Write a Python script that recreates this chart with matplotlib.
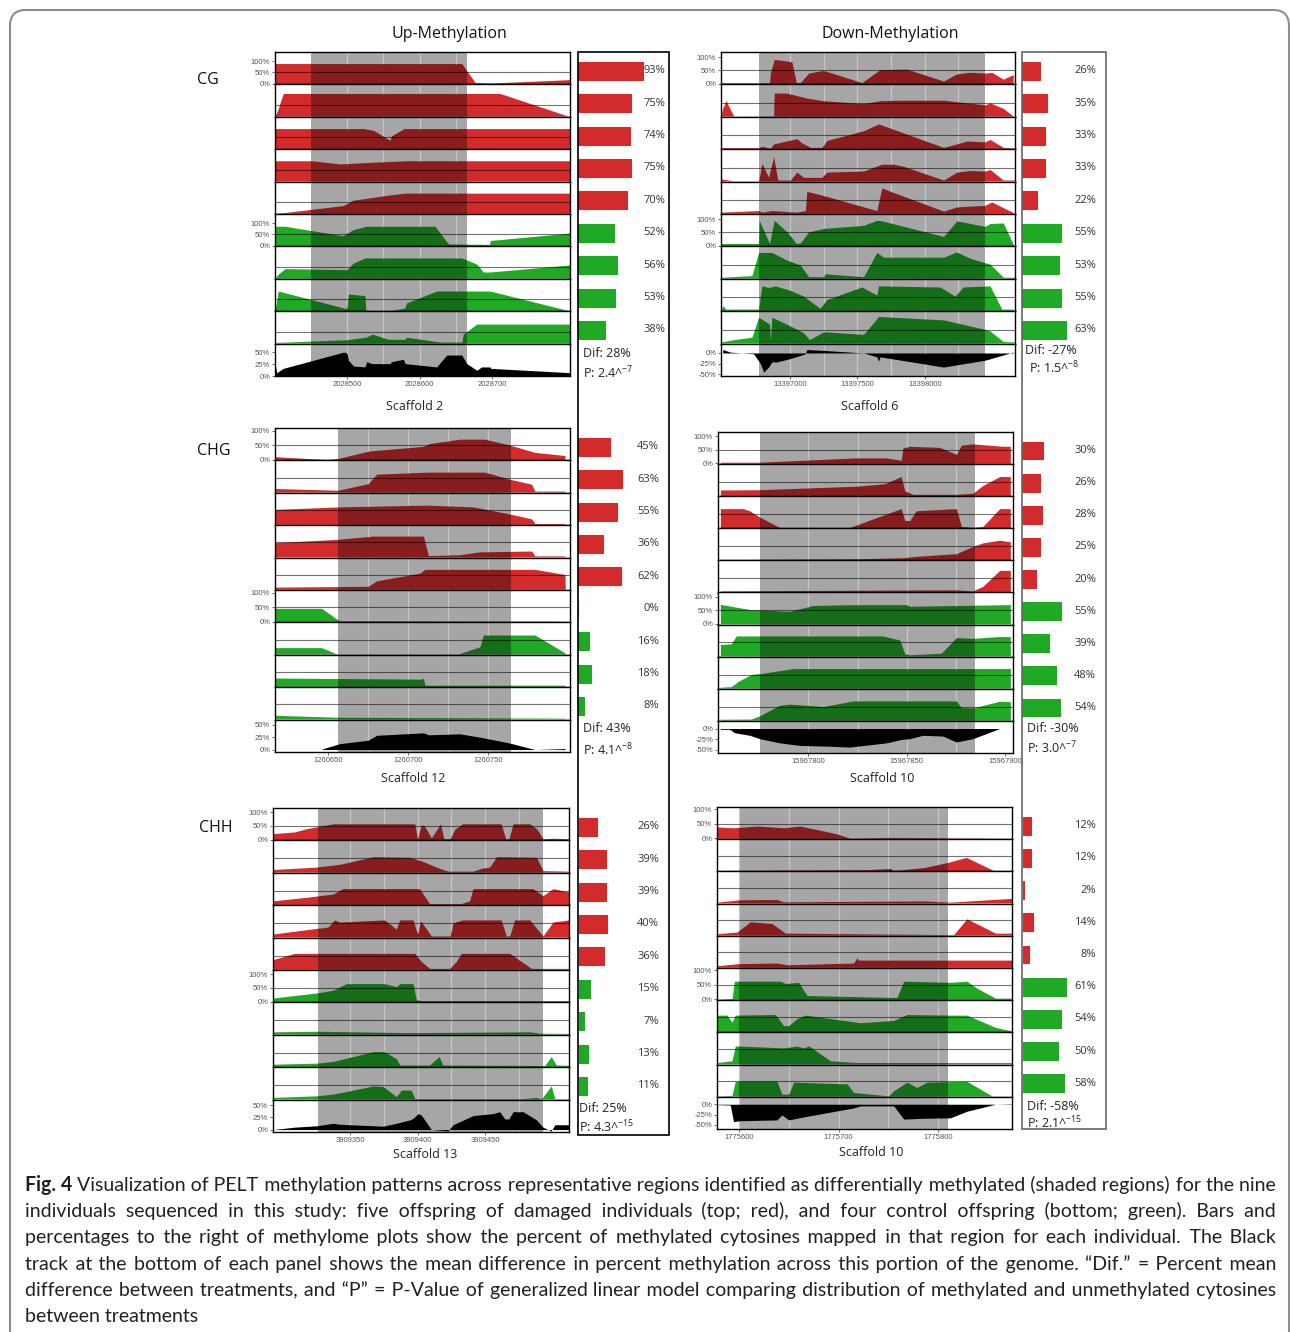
import matplotlib.pyplot as plt
import numpy as np
from matplotlib.patches import FancyBboxPatch, Rectangle

plt.rcParams["font.family"] = ["Open Sans", "DejaVu Sans"]
plt.rcParams["mathtext.fontset"] = "custom"
plt.rcParams["mathtext.rm"] = "Open Sans"
plt.rcParams["mathtext.it"] = "Open Sans"

W, H = 1290, 1332
RED, GREEN = "#d32b2b", "#1fa924"
TICK_FONT = "Liberation Sans"
CAPTION_FONT = ["Lato", "DejaVu Sans"]

# ---------------------------------------------------------------- data
# each track: (position in % of the plotted window, % methylation)
# five damaged offspring (red) then four controls (green)
cg_up_tracks = [
    [(0, 89), (63.3, 89), (67.8, 6), (72.9, 3), (100, 18)],
    [(0, 0), (1, 30), (2.8, 100), (76.3, 100), (99.4, 0), (100, 0)],
    [(0, 88), (30, 88), (33.5, 80), (39, 36), (39.5, 56), (43.8, 88), (100, 88)],
    [(0, 89), (12.4, 89), (22, 75), (34, 83), (45, 89), (100, 89)],
    [(0, 0), (3, 3), (23, 34), (26.5, 58), (31, 66), (37, 78), (44, 89), (100, 89)],
    [(0, 86), (3.4, 86), (23, 44), (26.5, 71), (31, 86), (54.2, 86), (58.8, 8), (72.8, 6), (72.9, 23), (100, 56)],
    [(0, 0), (1.2, 19), (3.4, 42), (24.3, 37), (26.5, 66), (30.5, 89), (63.3, 89), (68.4, 62), (70.6, 27), (72.9, 27), (100, 58)],
    [(0, 0), (1.1, 86), (24.3, 8), (24.9, 73), (30.5, 66), (30.8, 0), (39.5, 0), (44, 11), (44.6, 34), (54.8, 86), (72.9, 86), (99.4, 0), (100, 0)],
    [(0, 2), (24.3, 14), (30.8, 25), (33, 39), (38.4, 16), (44, 16), (44.6, 25), (56, 4), (63.3, 4), (63.8, 39), (68.4, 83), (100, 83)],
]
cg_up_diff = [(0, 26), (0.6, 7), (2.8, 16), (23.2, 50), (24.3, 49), (24.9, 33), (26.6, 21), (30.5, 19), (31.1, 30), (32.8, 26), (39, 26), (39.5, 30), (43.5, 35), (44.1, 26), (54.8, 19), (58.2, 44), (63.3, 44), (65, 26), (68.4, 12), (70, 19), (72.9, 19), (73.1, 16), (100, 7)]
cg_up_pct = [93, 75, 74, 75, 70, 52, 56, 53, 38]
cg_up_window = (2028401, 2028807)
cg_up_shade = (2028451, 2028665)
cg_up_ticks = [2028500, 2028600, 2028700]

cg_down_tracks = [
    [(0, 3), (16.5, 3), (16.8, 40), (18.1, 92), (24.1, 83), (25.6, 4), (27, 4), (29.8, 40), (34.9, 50), (47.9, 4), (54.1, 53), (63.2, 55), (75.7, 10), (80.2, 37), (84.7, 43), (89.8, 40), (92.1, 43), (96, 17), (99.4, 34)],
    [(0, 0), (0.6, 30), (1.7, 58), (4.3, 0), (17.9, 0), (18.1, 87), (22.4, 87), (29.2, 68), (34.9, 58), (48.5, 47), (54.1, 58), (60.9, 60), (75.7, 60), (89.8, 42), (91.5, 50), (96, 29), (99.4, 0)],
    [(0, 3), (12.8, 3), (13.9, 8), (16.8, 1), (17.9, 17), (25.8, 37), (27.5, 21), (30.4, 4), (34.3, 4), (36, 30), (48.5, 67), (53.6, 93), (75.7, 4), (80.2, 17), (83.6, 28), (89.8, 25), (91.5, 34), (96, 4), (100, 1)],
    [(0, 7), (4.3, 0), (12.8, 0), (13.4, 33), (13.9, 66), (16.2, 13), (17.9, 92), (19.3, 3), (23.6, 3), (25.8, 33), (28.1, 13), (34.3, 13), (36, 33), (48.5, 37), (54.7, 63), (58.7, 63), (62.1, 55), (75.7, 3), (80.2, 33), (84.7, 39), (89.8, 37), (91.5, 43), (96, 3), (100, 3)],
    [(0, 4), (12.8, 10), (13.9, 4), (17.3, 10), (25.8, 4), (28.7, 10), (29.2, 83), (34.9, 67), (53, 10), (54.7, 96), (59.8, 74), (75.7, 8), (80.2, 24), (89.8, 30), (92.1, 43), (96, 21), (99.4, 3)],
    [(0, 8), (12.8, 8), (13, 96), (16.5, 8), (18.1, 96), (23, 46), (25.6, 8), (27, 10), (29.8, 52), (34.9, 65), (48.5, 77), (53, 96), (54.7, 94), (75.7, 35), (80.2, 94), (89.8, 73), (91.5, 84), (96, 86), (99.4, 5)],
    [(0, 3), (10.5, 9), (12.8, 97), (17.3, 97), (22.4, 68), (27, 49), (29.8, 5), (34.9, 5), (35.4, 16), (48.5, 5), (53, 97), (55.3, 79), (75.7, 79), (80.2, 99), (84.7, 75), (89.8, 58), (91.5, 53), (96, 3), (100, 3)],
    [(0, 0), (0.6, 18), (1.7, 5), (12.8, 5), (13.9, 93), (16.2, 87), (18.5, 93), (23.6, 76), (28.1, 54), (33.7, 8), (36, 41), (47.9, 89), (53, 58), (53.6, 93), (74.5, 89), (79.6, 54), (82.4, 89), (91.5, 93), (95.5, 5), (99.4, 5)],
    [(0, 3), (4.3, 12), (10.5, 21), (12.8, 97), (16.5, 71), (16.8, 8), (17.3, 97), (23.6, 64), (28.1, 38), (30.1, 12), (34.9, 42), (48.5, 32), (53.6, 100), (75.7, 87), (89.8, 51), (91.5, 45), (96, 5), (100, 3)],
]
cg_down_diff = [(0.6, 8), (3.2, 2), (11.1, -2), (13.4, -25), (14.5, -45), (16.2, -33), (17.3, -21), (19, -21), (23.6, -13), (28.7, -2), (29.2, 8), (34.9, 6), (48.5, 0), (53, -9), (53.6, -19), (54.1, -9), (75.7, -33), (89.8, -17), (99.4, 2)]
cg_down_pct = [26, 35, 33, 33, 22, 55, 53, 55, 63]
cg_down_window = (13396486, 13398670)
cg_down_shade = (13396770, 13398448)
cg_down_ticks = [13397000, 13397500, 13398000]

chg_up_tracks = [
    [(0, 10), (17.5, 0), (21.5, 4), (31.6, 29), (33.3, 31), (50.3, 46), (52.5, 56), (62.7, 71), (71.2, 71), (79.7, 50), (88.1, 25), (98.3, 14)],
    [(0, 12), (21.5, 6), (31.6, 29), (34.5, 62), (51.4, 69), (71.2, 69), (79.7, 44), (87, 27), (88.1, 3), (98.3, 3)],
    [(0, 52), (22, 61), (51.4, 67), (67.2, 61), (79.7, 36), (87, 19), (88.1, 3), (98.3, 3)],
    [(0, 49), (21.5, 61), (33.3, 72), (50.3, 72), (52, 4), (62.7, 7), (69.5, 17), (87, 20), (88.1, 3), (98.3, 3)],
    [(0, 7), (31.6, 10), (34.5, 29), (49.2, 56), (50.8, 69), (88.1, 69), (98.3, 51), (98.4, 0)],
    [(0, 46), (15.8, 46), (20.9, 9), (22, 2), (98.3, 1)],
    [(0, 22), (15.8, 22), (20.9, 0), (62.1, 0), (69.5, 25), (70.6, 66), (88.1, 66), (98.3, 4)],
    [(0, 29), (49.7, 25), (50.3, 29), (50.8, 4), (98.3, 4)],
    [(0, 12), (22, 5), (98.3, 2)],
]
chg_up_diff = [(15.8, 0), (16.4, 2), (22, 12), (31.6, 19), (33.3, 25), (34.5, 29), (50.3, 34), (52, 30), (62.7, 32), (70.6, 24), (79.7, 13), (88.1, 0), (98.3, 2)]
chg_up_pct = [45, 63, 55, 36, 62, 0, 16, 18, 8]
chg_up_window = (1260617, 1260801)
chg_up_shade = (1260656, 1260764)
chg_up_ticks = [1260650, 1260700, 1260750]

chg_down_tracks = [
    [(0.8, 4), (14.1, 4), (46.9, 20), (57.1, 20), (62.1, 11), (62.7, 57), (65, 63), (75.1, 59), (80.8, 33), (82.5, 67), (86.4, 72), (92.1, 67), (96.6, 63), (99.1, 63)],
    [(0.8, 20), (14.1, 21), (46.9, 34), (56.5, 43), (62.1, 70), (63.3, 17), (66.1, 4), (80.8, 4), (86.4, 8), (89.8, 37), (95.5, 70), (99.1, 70)],
    [(0.8, 70), (8.5, 70), (10.7, 62), (14.1, 39), (20.9, 0), (44.6, 0), (62.1, 70), (63.3, 26), (65, 26), (67.2, 62), (80.8, 70), (82.5, 4), (86.4, 0), (89.8, 4), (95.5, 70), (99.1, 70)],
    [(0.8, 0), (46.9, 3), (62.7, 7), (67.2, 12), (80.8, 22), (86.4, 49), (89.8, 62), (95.5, 72), (99.1, 66)],
    [(0.8, 3), (80.8, 7), (86.4, 3), (89.8, 20), (95.5, 79), (99.1, 79)],
    [(0.8, 72), (10.7, 53), (24.3, 46), (32.2, 68), (46.9, 71), (63.8, 71), (65, 65), (99.1, 71)],
    [(0.8, 42), (4.5, 45), (6.2, 74), (55.9, 74), (61.6, 59), (63.3, 8), (65, 4), (75.7, 10), (80.8, 68), (86.4, 65), (95.5, 72), (99.1, 71)],
    [(0.8, 3), (4.5, 5), (6.8, 24), (11.3, 50), (14.7, 54), (25.4, 72), (99.1, 72)],
    [(0.8, 3), (11.3, 4), (14.1, 16), (20.9, 55), (24.3, 59), (29.9, 55), (35.6, 50), (45.8, 71), (80.8, 71), (82.5, 46), (86.4, 45), (95.5, 70), (99.1, 68)],
]
chg_down_diff = [(0.8, -2), (4, -2), (5.6, -10), (10.7, -16), (14.1, -24), (20.9, -34), (27.7, -40), (37.9, -42), (44.6, -44), (57.1, -34), (62.1, -26), (65, -24), (69.5, -16), (76.3, -18), (80.8, -32), (86.4, -24), (95.5, 0), (99.1, 0)]
chg_down_pct = [30, 26, 28, 25, 20, 55, 39, 48, 54]
chg_down_window = (15967754, 15967904)
chg_down_shade = (15967775.5, 15967884.7)
chg_down_ticks = [15967800, 15967850, 15967900]

chh_up_tracks = [
    [(0, 22), (7.3, 28), (11.3, 40), (20.3, 58), (47.9, 58), (48.8, 3), (50.1, 54), (51.2, 50), (53.5, 6), (56.6, 58), (57.7, 3), (59.9, 3), (61.4, 38), (64, 58), (77.1, 58), (78.6, 3), (79.7, 3), (81.1, 58), (86.7, 58), (89, 41), (91.2, 3), (94.6, 5), (100, 3)],
    [(0, 9), (14.6, 18), (22.5, 28), (33.8, 56), (46.2, 54), (50.1, 41), (56.3, 13), (59.1, 3), (67.6, 3), (70.9, 15), (73.2, 18), (75.5, 56), (89, 54), (91.2, 5), (100, 3)],
    [(0, 13), (11.3, 26), (20.3, 38), (23.6, 58), (49.5, 58), (52.9, 3), (63.6, 3), (66.4, 13), (67.6, 58), (87.8, 58), (91.2, 32), (94.6, 58), (100, 45)],
    [(0, 10), (11.3, 26), (18.6, 36), (20.8, 62), (22.5, 54), (37.7, 62), (41.7, 28), (42.8, 62), (47.3, 62), (48.8, 10), (49.9, 58), (53.5, 3), (59.9, 3), (60.8, 51), (64, 62), (77.1, 62), (78.8, 3), (80, 3), (81.6, 62), (86.7, 62), (91.2, 3), (94.6, 54), (100, 62)],
    [(0, 35), (7.3, 58), (47.9, 58), (50.1, 28), (52.9, 3), (59.7, 3), (61.9, 28), (63.6, 58), (80, 58), (84.5, 24), (87.3, 3), (100, 3)],
    [(0, 13), (15, 32), (20.3, 42), (24.8, 66), (37.7, 66), (41.7, 55), (42.8, 66), (47.3, 66), (48.4, 7), (50.7, 3), (100, 3)],
    [(0, 8), (15, 10), (45, 5), (87, 8), (90, 3), (100, 2)],
    [(0, 8), (15, 12), (20.3, 18), (33.8, 54), (37.7, 54), (41.7, 28), (42.8, 5), (52.9, 5), (56.1, 36), (57.4, 5), (91.8, 3), (94, 36), (95.7, 5), (100, 4)],
    [(0, 5), (15, 11), (20.3, 17), (33.8, 47), (37.2, 45), (41.7, 8), (43.4, 32), (46.7, 32), (47.9, 1), (84.5, 1), (89, 5), (90.7, 0), (94, 47), (95.2, 1), (100, 0)],
]
chh_up_diff = [(0, 0), (7.3, 5), (15, 8), (20.3, 13), (22.5, 11), (37.2, 7), (41.7, 13), (46.2, 20), (47.3, 23), (49, 33), (50.1, 30), (53.5, 0), (59.1, -3), (60.8, 10), (67.6, 29), (74.3, 33), (76.6, 37), (78.3, 22), (79.7, 22), (81.1, 37), (84.5, 37), (89, 20), (91.2, 5), (94, -3), (95.2, 10), (100, 10)]
chh_up_pct = [26, 39, 39, 40, 36, 15, 7, 13, 11]
chh_up_window = (3909293, 3909512)
chh_up_shade = (3909326, 3909493)
chh_up_ticks = [3909350, 3909400, 3909450]

chh_down_tracks = [
    [(0, 39), (5.6, 36), (13.6, 42), (22.6, 36), (28.2, 42), (33.9, 30), (40.7, 15), (45.2, 0), (58.8, 3), (100, 0)],
    [(0, 0), (50.8, 3), (58.8, 7), (59.9, 0), (70.1, 10), (78, 27), (84.5, 45), (93.8, 0), (100, 0)],
    [(0, 2), (7.6, 10), (20.3, 11), (22.6, 3), (70.1, 6), (79.1, 2), (100, 15)],
    [(0, 4), (6.8, 10), (11.3, 45), (18.6, 39), (23.2, 6), (80.2, 1), (84.7, 55), (94.4, 6), (100, 6)],
    [(0, 5), (7.6, 12), (20.3, 14), (23.7, 8), (46.3, 14), (47.5, 32), (48, 24), (100, 24)],
    [(0, 0), (5.1, 3), (5.9, 62), (21.5, 62), (23.2, 54), (27.7, 58), (30.5, 13), (61, 6), (63.3, 62), (79.1, 58), (84.7, 62), (88.1, 38), (94.4, 4), (100, 4)],
    [(0, 56), (3.4, 56), (5.1, 32), (6.2, 56), (19.8, 58), (22.6, 20), (24.3, 20), (27.1, 44), (29.9, 56), (48.6, 30), (59.9, 38), (64.4, 58), (79.1, 56), (84.7, 56), (94.4, 14), (100, 2)],
    [(0, 4), (5.1, 10), (6.2, 61), (22.6, 54), (27.1, 60), (29.4, 54), (31.1, 61), (38.4, 10), (47.5, 4), (100, 4)],
    [(0, 0), (5.1, 2), (6.2, 50), (20.3, 50), (22, 6), (24.3, 6), (26, 47), (44.1, 41), (46.3, 12), (58.2, 0), (59.9, 18), (64.4, 47), (67.8, 29), (71.2, 47), (84.7, 50), (93.2, 0), (100, 0)],
]
chh_down_diff = [(0, -1), (4.5, -2), (5.6, -42), (7.9, -40), (20.3, -38), (22, -26), (24.3, -38), (27.1, -34), (29.9, -30), (46.3, -9), (48.6, -4), (59.9, -4), (63.3, -36), (70.1, -34), (79.1, -33), (84.7, -17), (94.4, 0), (100, 1)]
chh_down_pct = [12, 12, 2, 14, 8, 61, 54, 50, 58]
chh_down_window = (1775577.5, 1775874.5)
chh_down_shade = (1775600, 1775810)
chh_down_ticks = [1775600, 1775700, 1775800]

scaffolds = ["Scaffold 2", "Scaffold 6", "Scaffold 12", "Scaffold 10", "Scaffold 13", "Scaffold 10"]
dif_labels = ["Dif: 28%", "Dif: -27%", "Dif: 43%", "Dif: -30%", "Dif: 25%", "Dif: -58%"]
p_mantissa = ["2.4", "1.5", "4.1", "3.0", "4.3", "2.1"]
p_exponent = ["-7", "-8", "-8", "-7", "-15", "-15"]
contexts = ["CG", "CHG", "CHH"]
directions = ["Up-Methylation", "Down-Methylation"]

caption_lines = [
    "Visualization of PELT methylation patterns across representative regions identified as differentially methylated (shaded regions) for the nine",
    "individuals sequenced in this study: five offspring of damaged individuals (top; red), and four control offspring (bottom; green). Bars and",
    "percentages to the right of methylome plots show the percent of methylated cytosines mapped in that region for each individual. The Black",
    "track at the bottom of each panel shows the mean difference in percent methylation across this portion of the genome. \u201cDif.\u201d = Percent mean",
    "difference between treatments, and \u201cP\u201d = P-Value of generalized linear model comparing distribution of methylated and unmethylated cytosines",
    "between treatments",
]

# ---------------------------------------------------------------- layout
panels = [
    dict(tracks=cg_up_tracks, diff=cg_up_diff, pct=cg_up_pct, window=cg_up_window, shade=cg_up_shade,
         ticks=cg_up_ticks, step=50, ytop=140, dlim=(0, 68), dticks=[0, 25, 50],
         box=(275, 52, 570, 376), bar_x=578, lab_r=665, name_xy=(415, 406), dif_xy=(583, 354), p_xy=(583, 373)),
    dict(tracks=cg_down_tracks, diff=cg_down_diff, pct=cg_down_pct, window=cg_down_window, shade=cg_down_shade,
         ticks=cg_down_ticks, step=250, ytop=120, dlim=(-54, 22), dticks=[0, -25, -50],
         box=(721, 52, 1015, 376), bar_x=1022, lab_r=1096, name_xy=(870, 406), dif_xy=(1025, 350), p_xy=(1029, 368)),
    dict(tracks=chg_up_tracks, diff=chg_up_diff, pct=chg_up_pct, window=chg_up_window, shade=chg_up_shade,
         ticks=chg_up_ticks, step=25, ytop=110, dlim=(-5, 61), dticks=[0, 25, 50],
         box=(275, 428, 570, 752), bar_x=578, lab_r=659, name_xy=(413, 778), dif_xy=(583, 729), p_xy=(583, 750)),
    dict(tracks=chg_down_tracks, diff=chg_down_diff, pct=chg_down_pct, window=chg_down_window, shade=chg_down_shade,
         ticks=chg_down_ticks, step=25, ytop=116, dlim=(-58, 18), dticks=[0, -25, -50],
         box=(718, 432, 1013, 753), bar_x=1022, lab_r=1096, name_xy=(882, 778), dif_xy=(1027, 729), p_xy=(1027, 748)),
    dict(tracks=chh_up_tracks, diff=chh_up_diff, pct=chh_up_pct, window=chh_up_window, shade=chh_up_shade,
         ticks=chh_up_ticks, step=25, ytop=116, dlim=(-5, 62), dticks=[0, 25, 50],
         box=(273, 808, 569, 1132), bar_x=579, lab_r=659, name_xy=(425, 1154), dif_xy=(579, 1108), p_xy=(579, 1127)),
    dict(tracks=chh_down_tracks, diff=chh_down_diff, pct=chh_down_pct, window=chh_down_window, shade=chh_down_shade,
         ticks=chh_down_ticks, step=50, ytop=107, dlim=(-60, 18), dticks=[0, -25, -50],
         box=(717, 807, 1012, 1129), bar_x=1023, lab_r=1096, name_xy=(871, 1152), dif_xy=(1027, 1107), p_xy=(1027, 1123)),
]

fig = plt.figure(figsize=(W / 100, H / 100), dpi=100)


def px_axes(x0, y0, x1, y1):
    return fig.add_axes([x0 / W, 1 - y1 / H, (x1 - x0) / W, (y1 - y0) / H])


def px_text(x, y, s, **kw):
    return fig.text(x / W, 1 - y / H, s, **kw)


for k, pn in enumerate(panels):
    x0, y0, x1, y1 = pn["box"]
    th = (y1 - y0) / 10
    lo, hi = pn["window"]
    s0, s1 = pn["shade"]
    grid = np.arange(np.ceil(s0 / pn["step"]) * pn["step"], s1, pn["step"])
    series = pn["tracks"] + [pn["diff"]]
    for i, pts in enumerate(series):
        ax = px_axes(x0, y0 + i * th, x1, y0 + (i + 1) * th)
        pos, val = np.array(pts, float).T
        gx = lo + pos / 100 * (hi - lo)
        if i < 9:
            color = RED if i < 5 else GREEN
            ylim = (-3, pn["ytop"])
        else:
            color = "black"
            ylim = pn["dlim"]
        ax.fill_between(gx, 0, val, color=color, lw=0, zorder=1)
        ax.axvspan(s0, s1, color="black", alpha=0.35, lw=0, zorder=2)
        # faint white grid, only where the shaded background shows through
        for g in grid:
            v = np.interp(g, gx, val, left=0, right=0)
            ax.vlines(g, max(v, 0), ylim[1], color="white", alpha=0.35, lw=1.0, zorder=3)
            ax.vlines(g, ylim[0], min(v, 0), color="white", alpha=0.35, lw=1.0, zorder=3)
        if i < 9:
            ax.axhline(50, color="black", lw=0.8, alpha=0.55, zorder=4)
        ax.set_xlim(lo, hi)
        ax.set_ylim(*ylim)
        for sp in ax.spines.values():
            sp.set_linewidth(1.0)
            sp.set_color("black")
            sp.set_zorder(5)
        if i in (0, 5):
            ax.set_yticks([0, 50, 100])
            ax.set_yticklabels(["0%", "50%", "100%"], fontfamily=TICK_FONT)
        elif i == 9:
            ax.set_yticks(pn["dticks"])
            ax.set_yticklabels([f"{t}%" for t in pn["dticks"]], fontfamily=TICK_FONT)
        else:
            ax.set_yticks([])
        if i == 9:
            ax.set_xticks(pn["ticks"])
            ax.set_xticklabels([str(t) for t in pn["ticks"]], fontfamily=TICK_FONT)
        else:
            ax.set_xticks([])
        ax.tick_params(labelsize=5.5, colors="#555555", length=2.5, width=0.6, pad=1)

    # percent methylation bars
    bx = px_axes(pn["bar_x"], y0, pn["bar_x"] + 91, y1)
    bx.set_xlim(0, 130)
    bx.set_ylim(10, 0)
    bx.axis("off")
    ys = np.arange(9) + 0.58
    cols = [RED] * 5 + [GREEN] * 4
    bx.barh(ys, pn["pct"], height=0.55, color=cols, edgecolor=cols, lw=0.8)
    for yv, v in zip(ys, pn["pct"]):
        bx.text((pn["lab_r"] - pn["bar_x"]) / 0.7, yv, f"{v}%", ha="right", va="center",
                fontsize=8, color="#333333")

    px_text(*pn["name_xy"], scaffolds[k], ha="center", va="center", fontsize=9, color="#222222")
    px_text(*pn["dif_xy"], dif_labels[k], ha="left", va="center", fontsize=9, color="#222222")
    px_text(*pn["p_xy"], f"P: {p_mantissa[k]}^" + r"$^{" + p_exponent[k] + r"}$",
            ha="left", va="center", fontsize=9, color="#222222")

# tall boxes around the bar columns
fig.add_artist(Rectangle((578 / W, 1 - 1135 / H), 91 / W, (1135 - 52) / H, transform=fig.transFigure,
                         fill=False, lw=1.2, ec="black"))
fig.add_artist(Rectangle((1022 / W, 1 - 1129 / H), 84 / W, (1129 - 52) / H, transform=fig.transFigure,
                         fill=False, lw=1.2, ec="#666666"))

# column and row headers
px_text(449, 34, directions[0], ha="center", va="center", fontsize=11.5, color="#111111")
px_text(890, 34, directions[1], ha="center", va="center", fontsize=11.5, color="#111111")
for lab, (x, y) in zip(contexts, [(208, 80), (214, 451), (216, 828)]):
    px_text(x, y, lab, ha="center", va="center", fontsize=11.5, color="#111111")

# rounded outer frame
fig.add_artist(FancyBboxPatch((10 / W, -0.05), 1279 / W, 1 - 10 / H + 0.05,
                              boxstyle="round,pad=0,rounding_size=0.012", transform=fig.transFigure,
                              fill=False, lw=1.5, ec="#8c8c8c"))

# caption: each line is one text, justified by padding the spaces with hair spaces
renderer = fig.canvas.get_renderer()
cap_x0, cap_x1 = 25, 1276
cap_base = [1191, 1217, 1243, 1270, 1296, 1322]
HAIR = "\u200a"


def text_width(s, size, weight="normal"):
    t = fig.text(0, 0, s, fontsize=size, family=CAPTION_FONT, fontweight=weight)
    w = t.get_window_extent(renderer).width
    t.remove()
    return w


fs = 14 * (cap_x1 - cap_x0) / text_width("Fig. 4 " + caption_lines[0], 14)
hair_w = (text_width("a" + HAIR * 20 + "a", fs) - text_width("aa", fs)) / 20

for li, (line, y) in enumerate(zip(caption_lines, cap_base)):
    x = cap_x0
    if li == 0:
        lead = px_text(x / 1.0, y, "Fig. 4", fontsize=fs, fontweight="bold", family=CAPTION_FONT,
                       ha="left", va="baseline", color="#231f20")
        x += lead.get_window_extent(renderer).width + text_width("a a", fs) - text_width("aa", fs)
    words = line.split(" ")
    if li < len(caption_lines) - 1 and hair_w > 0:
        extra = cap_x1 - x - text_width(line, fs)
        n_hair = max(int(round(extra / hair_w)), 0)
        gaps = len(words) - 1
        cum = np.round(np.linspace(0, n_hair, gaps + 1)).astype(int)
        pads = np.diff(cum)
        line = words[0] + "".join(" " + HAIR * p + w for p, w in zip(pads, words[1:]))
    px_text(x, y, line, fontsize=fs, family=CAPTION_FONT, ha="left", va="baseline", color="#231f20")

fig.savefig("out.png", dpi=100)
